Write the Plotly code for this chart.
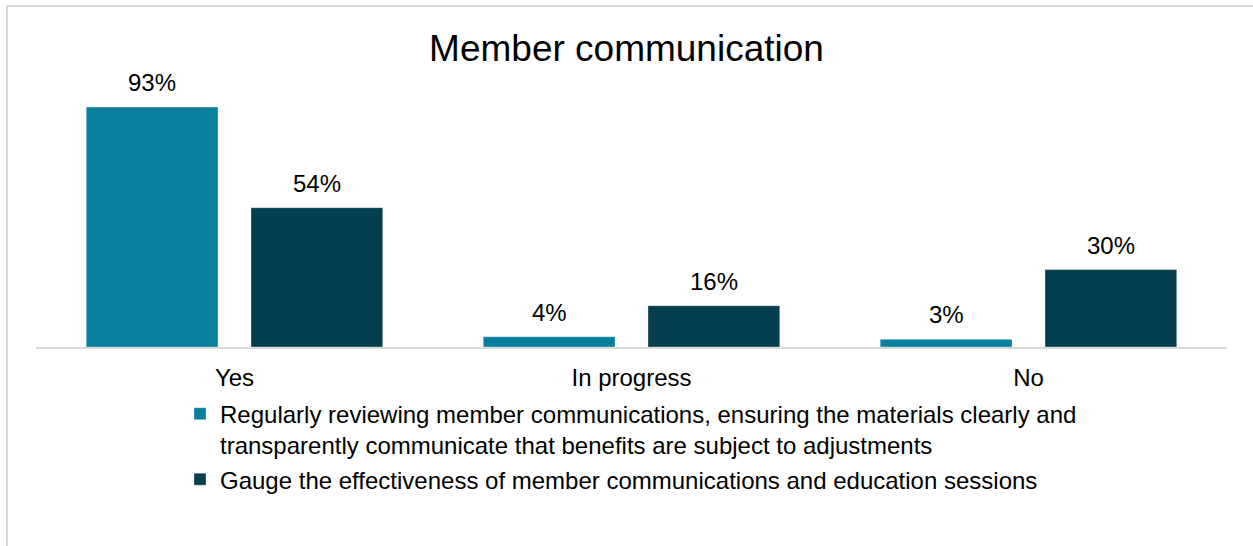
import plotly.graph_objects as go

categories = ["Yes", "In progress", "No"]
series_names = [
    "Regularly reviewing member communications, ensuring the materials clearly and<br>"
    "transparently communicate that benefits are subject to adjustments",
    "Gauge the effectiveness of member communications and education sessions",
]
reviewing_values = [93, 4, 3]
gauge_values = [54, 16, 30]
series_values = [reviewing_values, gauge_values]
series_colors = ["#0a7f9e", "#053e4e"]

FONT = "Liberation Sans, Arial, sans-serif"

fig = go.Figure()
for name, vals, color in zip(series_names, series_values, series_colors):
    fig.add_trace(go.Bar(
        x=categories, y=vals, name=name,
        marker=dict(color=color, line=dict(color="rgba(255,255,255,0.35)", width=1)),
        hoverinfo="skip",
    ))

# Value labels above each bar, offset to its slot in the group
bar_offsets = [-82.5, 82.5]
annotations = []
for vals, dx in zip(series_values, bar_offsets):
    for cat, v in zip(categories, vals):
        annotations.append(dict(
            x=cat, y=v, xref="x", yref="y", text=f"{v}%",
            showarrow=False, xshift=dx, yshift=9, yanchor="bottom",
            font=dict(family=FONT, size=24, color="#000000"),
        ))

fig.update_layout(
    width=1253, height=546,
    margin=dict(l=36, r=26, t=89, b=199),
    paper_bgcolor="white", plot_bgcolor="white",
    barmode="group", bargap=0.17, bargroupgap=0.2,
    title=dict(
        text="Member communication", x=0.5, xanchor="center",
        y=1 - 48 / 546, yanchor="middle", yref="container",
        font=dict(family=FONT, size=37, color="#000000"),
    ),
    xaxis=dict(
        showline=True, linecolor="#d9d9d9", linewidth=2,
        ticks="", ticklabelstandoff=8, showgrid=False,
        tickfont=dict(family=FONT, size=24, color="#000000"),
    ),
    yaxis=dict(range=[0, 100], visible=False, showgrid=False, zeroline=False),
    showlegend=True,
    legend=dict(
        x=(180 - 36) / 1191, xanchor="left",
        y=-0.173, yanchor="top", valign="top",
        font=dict(family=FONT, size=24, color="#000000"),
        tracegroupgap=5, bgcolor="rgba(0,0,0,0)",
    ),
    annotations=annotations,
    shapes=[dict(
        type="rect", xref="paper", yref="paper",
        x0=(7 - 36) / 1191, x1=(1270 - 36) / 1191,
        y0=(347 - 570) / 258, y1=(347 - 6) / 258,
        line=dict(color="#d9d9d9", width=2), layer="below",
    )],
)

fig.write_html("out.html")
